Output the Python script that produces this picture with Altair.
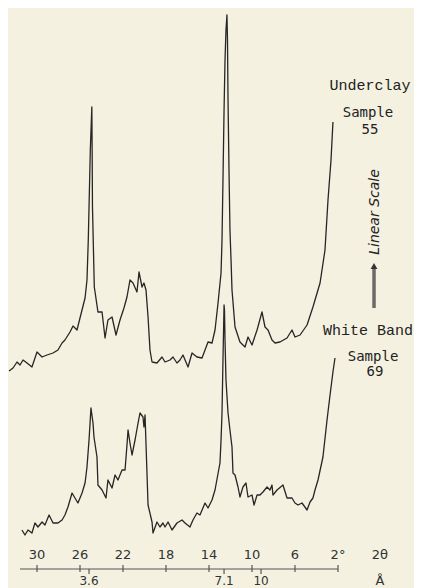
import altair as alt
import pandas as pd

# ---- Underclay, Sample 55 (upper trace): 2-theta (deg) and relative intensity
theta_top = [32.60, 32.23, 31.86, 31.58, 31.30, 30.93, 30.47, 30.00, 29.53, 29.07,
             28.51, 28.05, 27.67, 27.40, 26.93, 26.65, 26.28, 26.00, 25.53, 25.35,
             25.23, 25.16, 25.04, 24.90, 24.87, 24.84, 24.77, 24.67, 24.60, 24.33,
             23.95, 23.67, 23.40, 23.02, 22.65, 22.28, 21.91, 21.63, 21.35, 21.07,
             20.70, 20.51, 20.23, 20.05, 19.86, 19.67, 19.49, 19.30, 18.84, 18.37,
             18.09, 17.63, 17.35, 16.98, 16.70, 16.42, 15.95, 15.58, 15.12, 14.65,
             14.37, 14.09, 13.72, 13.44, 13.16, 12.88, 12.79, 12.70, 12.60, 12.51,
             12.42, 12.33, 12.28, 12.23, 12.14, 12.05, 11.95, 11.86, 11.58, 11.12,
             10.65, 10.37, 10.00, 9.53, 9.07, 8.79, 8.51, 8.14, 7.86, 7.40,
             6.74, 6.28, 6.00, 5.53, 4.88, 4.33, 3.67, 3.21, 2.93, 2.65, 2.47]
counts_top = [209, 212, 218, 215, 220, 217, 213, 228, 223, 225,
              227, 230, 237, 240, 248, 254, 250, 262, 282, 300,
              340, 373, 430, 473, 430, 373, 340, 293, 288, 268,
              268, 242, 260, 263, 245, 260, 272, 283, 300, 297,
              288, 308, 293, 297, 290, 263, 230, 218, 217, 223,
              218, 220, 223, 217, 220, 225, 213, 227, 223, 222,
              230, 238, 237, 250, 277, 307, 340, 400, 470, 520,
              550, 565, 540, 480, 410, 350, 320, 290, 253, 238,
              233, 243, 235, 250, 268, 253, 250, 240, 237, 238,
              242, 250, 243, 245, 255, 273, 297, 330, 380, 420, 458]

# ---- White Band, Sample 69 (lower trace)
theta_bot = [31.40, 31.12, 30.84, 30.47, 30.19, 29.91, 29.53, 29.26, 28.88, 28.51,
             28.05, 27.67, 27.40, 27.12, 26.74, 26.47, 26.19, 25.81, 25.53, 25.35,
             25.16, 24.98, 24.79, 24.70, 24.42, 24.33, 23.95, 23.58, 23.40, 23.02,
             22.74, 22.47, 22.09, 21.81, 21.63, 21.53, 21.35, 21.16, 20.88, 20.60,
             20.42, 20.14, 20.05, 19.95, 19.77, 19.67, 19.30, 19.21, 18.84, 18.56,
             18.28, 18.09, 17.81, 17.44, 16.98, 16.51, 16.23, 15.77, 15.49, 15.12,
             14.84, 14.37, 14.09, 13.72, 13.44, 12.98, 12.88, 12.79, 12.70, 12.60,
             12.56, 12.51, 12.42, 12.23, 12.05, 11.86, 11.77, 11.58, 11.30, 11.12,
             10.84, 10.56, 10.37, 10.00, 9.81, 9.53, 9.26, 8.98, 8.60, 8.33,
             8.14, 8.05, 7.67, 7.12, 6.74, 6.28, 6.00, 5.72, 5.35, 4.88,
             4.60, 4.33, 4.14, 3.86, 3.40, 3.02, 2.74, 2.47, 2.28]
counts_bot = [50, 45, 50, 47, 57, 53, 58, 55, 65, 57,
              57, 60, 65, 73, 87, 82, 77, 87, 97, 113,
              140, 172, 157, 143, 123, 95, 90, 82, 100, 92,
              105, 100, 110, 110, 135, 150, 137, 125, 140, 157,
              167, 163, 153, 165, 107, 75, 58, 47, 58, 53,
              57, 53, 58, 50, 57, 60, 57, 53, 60, 67,
              65, 77, 72, 80, 90, 117, 140, 167, 220, 275,
              270, 240, 200, 167, 150, 133, 107, 105, 93, 83,
              93, 97, 83, 85, 75, 85, 85, 88, 93, 90,
              95, 85, 90, 95, 82, 82, 77, 75, 77, 70,
              78, 82, 90, 100, 123, 160, 185, 208, 222]

# ---- axis ticks and labels
two_theta_ticks = [30, 26, 22, 18, 14, 10, 6, 2]
two_theta_labels = ["30", "26", "22", "18", "14", "10", "6", "2°"]
d_ticks = [25.16, 12.60, 9.16]
d_labels = ["3.6", "7.1", "10"]

BG = "#f4f1e0"
INK = "#262626"

xs = alt.Scale(domain=[32.698, -5.07], nice=False, zero=False)
ys = alt.Scale(domain=[-8, 572], nice=False, zero=False)

rows = []
for i, (t, c) in enumerate(zip(theta_top, counts_top)):
    rows.append({"theta": t, "counts": c, "sample": "Underclay 55", "i": i})
for i, (t, c) in enumerate(zip(theta_bot, counts_bot)):
    rows.append({"theta": t, "counts": c, "sample": "White Band 69", "i": i})
traces = pd.DataFrame(rows)

lines = alt.Chart(traces).mark_line(color=INK, strokeWidth=1.3, strokeJoin="round").encode(
    x=alt.X("theta:Q", scale=xs, axis=None),
    y=alt.Y("counts:Q", scale=ys, axis=None),
    detail="sample:N",
    order="i:Q",
)

# axis line
axis_line = alt.Chart(pd.DataFrame({"a": [31.58], "b": [2.0], "y": [11]})).mark_rule(
    color="#555", strokeWidth=1.2).encode(
    x=alt.X("a:Q", scale=xs, axis=None), x2="b:Q",
    y=alt.Y("y:Q", scale=ys, axis=None))

tt = pd.DataFrame({"t": two_theta_ticks, "lab": two_theta_labels,
                   "y0": [8] * 8, "y1": [15] * 8, "ly": [25] * 8})
tt_ticks = alt.Chart(tt).mark_rule(color="#555", strokeWidth=1.2).encode(
    x=alt.X("t:Q", scale=xs, axis=None),
    y=alt.Y("y0:Q", scale=ys, axis=None), y2="y1:Q")
tt_text = alt.Chart(tt).mark_text(font="DejaVu Sans", fontSize=13, color="#333",
                                  baseline="middle").encode(
    x=alt.X("t:Q", scale=xs, axis=None),
    y=alt.Y("ly:Q", scale=ys, axis=None), text="lab:N")

dd = pd.DataFrame({"t": d_ticks, "lab": d_labels, "y0": [6] * 3, "y1": [11] * 3,
                   "ly": [-1] * 3})
dd_ticks = alt.Chart(dd).mark_rule(color="#555", strokeWidth=1.2).encode(
    x=alt.X("t:Q", scale=xs, axis=None),
    y=alt.Y("y0:Q", scale=ys, axis=None), y2="y1:Q")
dd_text = alt.Chart(dd).mark_text(font="DejaVu Sans", fontSize=12, color="#333",
                                  baseline="middle").encode(
    x=alt.X("t:Q", scale=xs, axis=None),
    y=alt.Y("ly:Q", scale=ys, axis=None), text="lab:N")

units = pd.DataFrame({"t": [-1.9, -1.9], "y": [25, -1], "lab": ["2θ", "Å"]})
units_text = alt.Chart(units).mark_text(font="DejaVu Sans", fontSize=13, color="#333",
                                        baseline="middle").encode(
    x=alt.X("t:Q", scale=xs, axis=None),
    y=alt.Y("y:Q", scale=ys, axis=None), text="lab:N")

# sample labels
names = pd.DataFrame({"t": [-0.98, -0.80], "y": [495, 250],
                      "lab": ["Underclay", "White Band"]})
names_text = alt.Chart(names).mark_text(font="Liberation Mono", fontSize=15, color="#222",
                                        baseline="middle").encode(
    x=alt.X("t:Q", scale=xs, axis=None),
    y=alt.Y("y:Q", scale=ys, axis=None), text="lab:N")

samples = pd.DataFrame({"t": [-0.79, -0.98, -1.26, -1.44], "y": [467, 450, 223, 208],
                        "lab": ["Sample", "55", "Sample", "69"]})
samples_text = alt.Chart(samples).mark_text(font="DejaVu Sans Mono", fontSize=14,
                                            color="#222", baseline="middle").encode(
    x=alt.X("t:Q", scale=xs, axis=None),
    y=alt.Y("y:Q", scale=ys, axis=None), text="lab:N")

scale_lab = alt.Chart(pd.DataFrame({"t": [-1.44], "y": [368], "lab": ["Linear Scale"]})).mark_text(
    font="DejaVu Sans", fontSize=14, fontStyle="italic", angle=270, color="#222",
    baseline="middle").encode(
    x=alt.X("t:Q", scale=xs, axis=None),
    y=alt.Y("y:Q", scale=ys, axis=None), text="lab:N")

arrow_shaft = alt.Chart(pd.DataFrame({"t": [-1.35], "y0": [272], "y1": [312]})).mark_rule(
    color="#6a6a6a", strokeWidth=3.5).encode(
    x=alt.X("t:Q", scale=xs, axis=None),
    y=alt.Y("y0:Q", scale=ys, axis=None), y2="y1:Q")
arrow_head = alt.Chart(pd.DataFrame({"t": [-1.35], "y": [314]})).mark_point(
    shape="triangle-up", filled=True, color="#333", size=45, opacity=1).encode(
    x=alt.X("t:Q", scale=xs, axis=None),
    y=alt.Y("y:Q", scale=ys, axis=None))

chart = alt.layer(
    lines, axis_line, tt_ticks, tt_text, dd_ticks, dd_text, units_text,
    names_text, samples_text, scale_lab, arrow_shaft, arrow_head
).properties(
    width=406, height=580, padding=0, autosize="none", background=BG
).configure_view(stroke=None)

chart.save("out.html", embed_options={"renderer": "svg", "actions": False})
